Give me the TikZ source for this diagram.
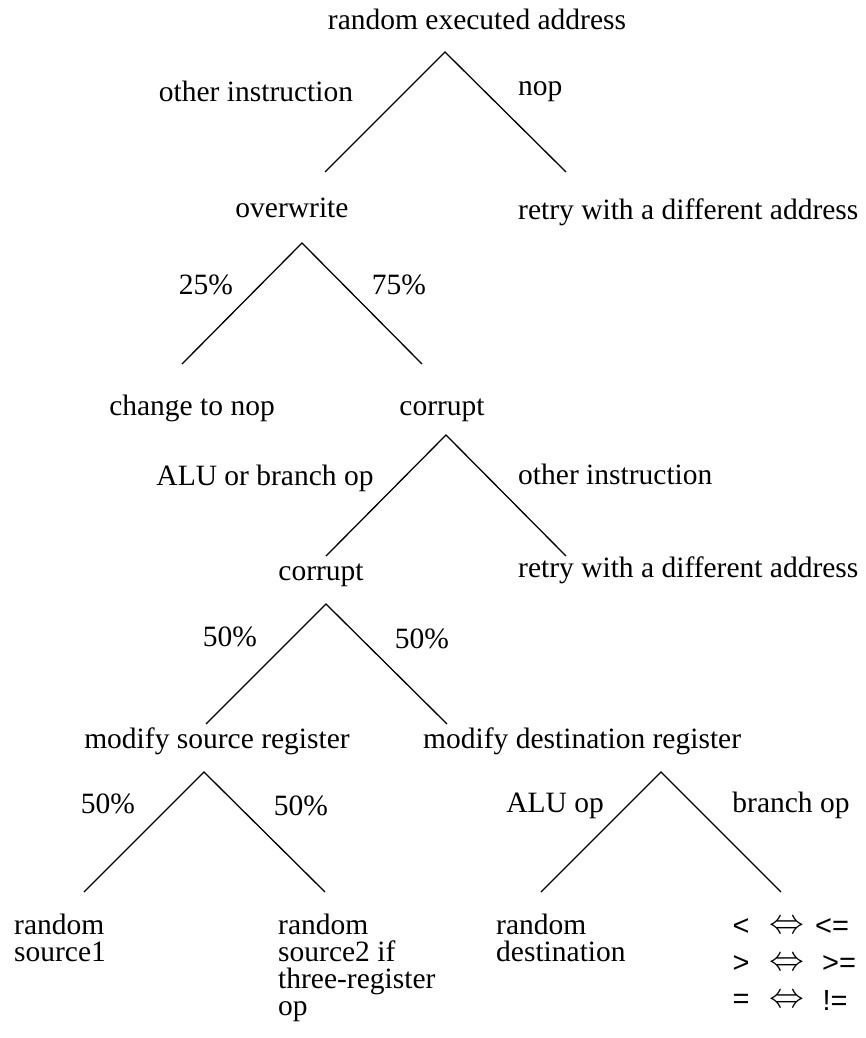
\documentclass[tikz,border=0pt]{standalone}
\usepackage{fontspec}
\setmainfont{Liberation Serif}
\newfontfamily\opfont{Liberation Sans}
\begin{document}
\begin{tikzpicture}[x=1pt,y=-1pt,
  lbl/.style={inner sep=0pt,anchor=base,font=\fontsize{29.5}{25.5}\selectfont},
  lbll/.style={lbl,anchor=base west},
  leaf/.style={inner sep=0pt,anchor=north west,align=left,
    font=\fontsize{29.5}{26.8}\selectfont},
  op/.style={inner sep=0pt,anchor=center,font=\opfont\fontsize{29}{29}\selectfont},
  eqv/.style={inner sep=0pt,anchor=center,font=\fontsize{24.88}{25}\selectfont},
  branch/.style={line width=1.3pt,line join=miter}]
\useasboundingbox (0,0) rectangle (865,1038);

% level 0
\node[lbl]  (root)  at (477,30)  {random executed address};
\node[lbl]  (e1l)   at (256,102) {other instruction};
\node[lbll] (e1r)   at (518,96)  {nop};
\coordinate (a1)  at (445,52);
\coordinate (a1l) at (325,172);
\coordinate (a1r) at (566,172);
\draw[branch] (a1l) -- (a1) -- (a1r);

% level 1
\node[lbl]  (ovw)    at (292,217) {overwrite};
\node[lbll] (retry1) at (518,219) {retry with a different address};
\node[lbl]  (e2l)    at (206,294) {25\%};
\node[lbl]  (e2r)    at (399,294) {75\%};
\coordinate (a2)  at (302,243);
\coordinate (a2l) at (182,364);
\coordinate (a2r) at (422,364);
\draw[branch] (a2l) -- (a2) -- (a2r);

% level 2
\node[lbl] (tonop) at (192,415) {change to nop};
\node[lbl] (corr1) at (442,415) {corrupt};
\node[lbl]  (e3l)  at (265,485) {ALU or branch op};
\node[lbll] (e3r)  at (518,484) {other instruction};
\coordinate (a3)  at (446,435);
\coordinate (a3l) at (326,556);
\coordinate (a3r) at (566,556);
\draw[branch] (a3l) -- (a3) -- (a3r);

% level 3
\node[lbl]  (corr2)  at (321,580) {corrupt};
\node[lbll] (retry2) at (518,577) {retry with a different address};
\node[lbl]  (e4l)    at (230,646) {50\%};
\node[lbl]  (e4r)    at (422,648) {50\%};
\coordinate (a4)  at (326,604);
\coordinate (a4l) at (206,724);
\coordinate (a4r) at (447,724);
\draw[branch] (a4l) -- (a4) -- (a4r);

% level 4
\node[lbl]  (msrc) at (217,748) {modify source register};
\node[lbll] (mdst) at (423,748) {modify destination register};
\node[lbl]  (e5l)  at (108,813) {50\%};
\node[lbl]  (e5r)  at (301,815) {50\%};
\coordinate (a5)  at (204,772);
\coordinate (a5l) at (84,892);
\coordinate (a5r) at (325,892);
\draw[branch] (a5l) -- (a5) -- (a5r);
\node[lbl]  (e6l)  at (555,812) {ALU op};
\node[lbl]  (e6r)  at (791,812) {branch op};
\coordinate (a6)  at (661,772);
\coordinate (a6l) at (541,892);
\coordinate (a6r) at (781,892);
\draw[branch] (a6l) -- (a6) -- (a6r);

% leaves
\node[leaf] (src1) at (14,914)  {random\\source1};
\node[leaf] (src2) at (278,914) {random\\source2 if\\three-register\\op};
\node[leaf] (dst)  at (496,914) {random\\destination};

% inverted branch conditions
\node[op]  (lt)   at (741,927)  {<};
\node[eqv] (q1)   at (787,927)  {\scalebox{1.4}{$\Leftrightarrow$}};
\node[op]  (le)   at (832,927)  {<=};
\node[op]  (gt)   at (741,964)  {>};
\node[eqv] (q2)   at (787,964)  {\scalebox{1.4}{$\Leftrightarrow$}};
\node[op]  (ge)   at (839,964)  {>=};
\node[op]  (eq)   at (741,1001) {=};
\node[eqv] (q3)   at (787,1001) {\scalebox{1.4}{$\Leftrightarrow$}};
\node[op]  (ne)   at (835,1001) {!=};
\end{tikzpicture}
\end{document}
